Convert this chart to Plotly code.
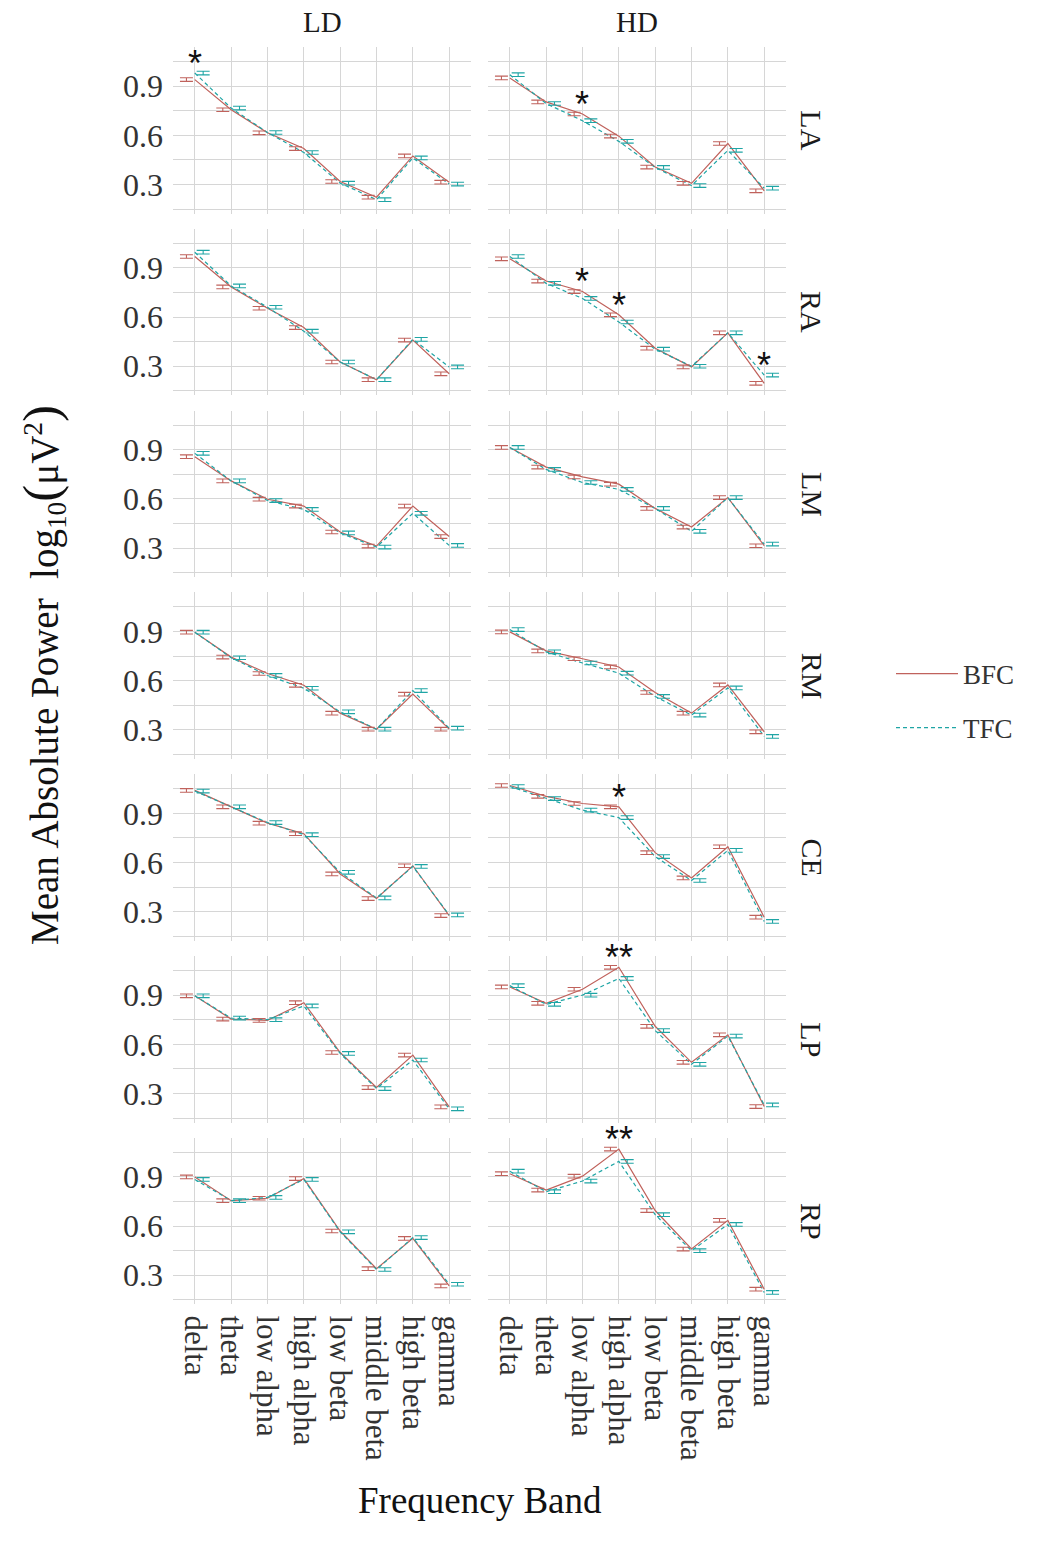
import plotly.graph_objects as go

W, H = 1039, 1548

bands = ["delta", "theta", "low alpha", "high alpha", "low beta", "middle beta", "high beta", "gamma"]
regions = ["LA", "RA", "LM", "RM", "CE", "LP", "RP"]
groups = ["LD", "HD"]
series = ["BFC", "TFC"]

# Mean absolute power
bfc_LA_LD = [0.940, 0.756, 0.615, 0.519, 0.318, 0.222, 0.474, 0.314]
tfc_LA_LD = [0.980, 0.766, 0.617, 0.495, 0.308, 0.207, 0.462, 0.302]
bfc_LA_HD = [0.950, 0.804, 0.730, 0.595, 0.406, 0.307, 0.550, 0.261]
tfc_LA_HD = [0.970, 0.794, 0.689, 0.563, 0.404, 0.293, 0.508, 0.277]

bfc_RA_LD = [0.970, 0.784, 0.654, 0.536, 0.326, 0.218, 0.460, 0.254]
tfc_RA_LD = [0.996, 0.790, 0.660, 0.514, 0.326, 0.218, 0.464, 0.296]
bfc_RA_HD = [0.956, 0.820, 0.756, 0.614, 0.410, 0.296, 0.504, 0.196]
tfc_RA_HD = [0.970, 0.806, 0.714, 0.570, 0.404, 0.300, 0.504, 0.246]

bfc_LM_LD = [0.858, 0.710, 0.598, 0.556, 0.398, 0.312, 0.556, 0.370]
tfc_LM_LD = [0.878, 0.710, 0.590, 0.536, 0.392, 0.306, 0.512, 0.316]
bfc_LM_HD = [0.914, 0.794, 0.734, 0.690, 0.542, 0.428, 0.608, 0.314]
tfc_LM_HD = [0.914, 0.780, 0.700, 0.658, 0.542, 0.402, 0.608, 0.324]

bfc_RM_LD = [0.896, 0.744, 0.644, 0.572, 0.402, 0.304, 0.518, 0.304]
tfc_RM_LD = [0.896, 0.740, 0.632, 0.554, 0.410, 0.304, 0.540, 0.310]
bfc_RM_HD = [0.898, 0.782, 0.734, 0.684, 0.528, 0.402, 0.574, 0.288]
tfc_RM_HD = [0.912, 0.776, 0.708, 0.646, 0.504, 0.390, 0.556, 0.260]

bfc_CE_LD = [1.040, 0.940, 0.840, 0.776, 0.530, 0.380, 0.580, 0.276]
tfc_CE_LD = [1.036, 0.940, 0.844, 0.770, 0.540, 0.384, 0.576, 0.280]
bfc_CE_HD = [1.070, 1.004, 0.960, 0.940, 0.660, 0.506, 0.696, 0.266]
tfc_CE_HD = [1.064, 0.990, 0.920, 0.874, 0.636, 0.490, 0.674, 0.240]

bfc_LP_LD = [0.896, 0.754, 0.746, 0.854, 0.550, 0.336, 0.534, 0.218]
tfc_LP_LD = [0.896, 0.760, 0.750, 0.834, 0.544, 0.330, 0.504, 0.206]
bfc_LP_HD = [0.950, 0.850, 0.936, 1.070, 0.710, 0.490, 0.658, 0.220]
tfc_LP_HD = [0.958, 0.844, 0.900, 1.002, 0.684, 0.478, 0.650, 0.230]

bfc_RP_LD = [0.900, 0.755, 0.770, 0.890, 0.570, 0.340, 0.525, 0.235]
tfc_RP_LD = [0.885, 0.755, 0.775, 0.885, 0.565, 0.335, 0.530, 0.245]
bfc_RP_HD = [0.920, 0.820, 0.905, 1.070, 0.695, 0.460, 0.635, 0.215]
tfc_RP_HD = [0.935, 0.810, 0.875, 0.995, 0.670, 0.450, 0.610, 0.195]

# standard error (bar half-height)
se_value = 0.011

# significance marks: (region, group, band, label)
stars = [
    ("LA", "LD", "delta", "*"),
    ("LA", "HD", "low alpha", "*"),
    ("RA", "HD", "low alpha", "*"),
    ("RA", "HD", "high alpha", "*"),
    ("RA", "HD", "gamma", "*"),
    ("CE", "HD", "high alpha", "*"),
    ("LP", "HD", "high alpha", "**"),
    ("RP", "HD", "high alpha", "**"),
]

# y-axis ticks
y_major = [0.3, 0.6, 0.9]
y_major_text = ["0.3", "0.6", "0.9"]
y_minor = [0.15, 0.45, 0.75, 1.05]

data = {
    ("LA", "LD"): (bfc_LA_LD, tfc_LA_LD), ("LA", "HD"): (bfc_LA_HD, tfc_LA_HD),
    ("RA", "LD"): (bfc_RA_LD, tfc_RA_LD), ("RA", "HD"): (bfc_RA_HD, tfc_RA_HD),
    ("LM", "LD"): (bfc_LM_LD, tfc_LM_LD), ("LM", "HD"): (bfc_LM_HD, tfc_LM_HD),
    ("RM", "LD"): (bfc_RM_LD, tfc_RM_LD), ("RM", "HD"): (bfc_RM_HD, tfc_RM_HD),
    ("CE", "LD"): (bfc_CE_LD, tfc_CE_LD), ("CE", "HD"): (bfc_CE_HD, tfc_CE_HD),
    ("LP", "LD"): (bfc_LP_LD, tfc_LP_LD), ("LP", "HD"): (bfc_LP_HD, tfc_LP_HD),
    ("RP", "LD"): (bfc_RP_LD, tfc_RP_LD), ("RP", "HD"): (bfc_RP_HD, tfc_RP_HD),
}

# ---- styling / layout ----
RED = "#C0625C"
TEAL = "#1FA5A5"
GRID = "#D6D6D6"
FONT = "Liberation Serif"
TXT = "#333333"
DODGE = 0.23
STAR_OFFSET = 0.09

col_px = [(173, 471), (488, 786)]
row_top0, row_step, row_h = 47, 181.8, 166.6
y_range = [0.122, 1.139]
x_range = [-0.6, 7.6]

fig = go.Figure()
layout = {}
idx = list(range(len(bands)))

n = 0
for r, reg in enumerate(regions):
    top = row_top0 + r * row_step
    bot = top + row_h
    for c, grp in enumerate(groups):
        n += 1
        xa = "x" if n == 1 else f"x{n}"
        ya = "y" if n == 1 else f"y{n}"
        xkey = "xaxis" if n == 1 else f"xaxis{n}"
        ykey = "yaxis" if n == 1 else f"yaxis{n}"
        bfc, tfc = data[(reg, grp)]
        first = n == 1
        fig.add_trace(go.Scatter(x=idx, y=bfc, mode="lines", name="BFC",
                                 line=dict(color=RED, width=1.2), xaxis=xa, yaxis=ya,
                                 showlegend=first, legendgroup="BFC"))
        fig.add_trace(go.Scatter(x=idx, y=tfc, mode="lines", name="TFC",
                                 line=dict(color=TEAL, width=1.2, dash="4px,3px"), xaxis=xa, yaxis=ya,
                                 showlegend=first, legendgroup="TFC"))
        for vals, col, off in ((bfc, RED, -DODGE), (tfc, TEAL, DODGE)):
            fig.add_trace(go.Scatter(
                x=[i + off for i in idx], y=vals, mode="markers",
                marker=dict(size=1, color="rgba(0,0,0,0)"),
                error_y=dict(type="constant", value=se_value, color=col, width=6.5, thickness=1.1),
                xaxis=xa, yaxis=ya, showlegend=False, hoverinfo="skip"))
        x0, x1 = col_px[c]
        layout[xkey] = dict(
            domain=[x0 / W, x1 / W], range=x_range, anchor=ya,
            tickmode="array", tickvals=idx, ticktext=bands,
            showticklabels=(r == len(regions) - 1), tickangle=90, ticklabelstandoff=10,
            tickfont=dict(family=FONT, size=31, color=TXT),
            showgrid=True, gridcolor=GRID, gridwidth=1, zeroline=False,
            showline=False, ticks="", fixedrange=True)
        layout[ykey] = dict(
            domain=[1 - bot / H, 1 - top / H], range=y_range, anchor=xa,
            tickmode="array", tickvals=y_major, ticktext=y_major_text,
            minor=dict(tickmode="array", tickvals=y_minor, showgrid=True, gridcolor=GRID,
                       gridwidth=1, ticks=""),
            showticklabels=(c == 0), ticklabelstandoff=9,
            tickfont=dict(family=FONT, size=32, color=TXT),
            showgrid=True, gridcolor=GRID, gridwidth=1, zeroline=False,
            showline=False, ticks="", fixedrange=True)

annotations = []
# column strips
for c, grp in enumerate(groups):
    x0, x1 = col_px[c]
    annotations.append(dict(text=grp, x=(x0 + x1) / 2 / W, y=1 - 22 / H, xref="paper", yref="paper",
                            showarrow=False, xanchor="center", yanchor="middle",
                            font=dict(family=FONT, size=29, color="#1a1a1a")))
# row strips
for r, reg in enumerate(regions):
    top = row_top0 + r * row_step
    annotations.append(dict(text=reg, x=812 / W, y=1 - (top + row_h / 2) / H, xref="paper", yref="paper",
                            showarrow=False, xanchor="center", yanchor="middle", textangle=90,
                            font=dict(family=FONT, size=30, color="#1a1a1a")))
# significance stars (positioned through the panel's axis range, in paper units so they are not clipped)
for reg, grp, band, lab in stars:
    r = regions.index(reg)
    c = groups.index(grp)
    n = r * 2 + c + 1
    xkey = "xaxis" if n == 1 else f"xaxis{n}"
    ykey = "yaxis" if n == 1 else f"yaxis{n}"
    bi = bands.index(band)
    bfc, tfc = data[(reg, grp)]
    yval = max(bfc[bi], tfc[bi]) + STAR_OFFSET
    xd, yd = layout[xkey]["domain"], layout[ykey]["domain"]
    px = xd[0] + (bi - x_range[0]) / (x_range[1] - x_range[0]) * (xd[1] - xd[0])
    py = yd[0] + (yval - y_range[0]) / (y_range[1] - y_range[0]) * (yd[1] - yd[0])
    annotations.append(dict(text=lab, x=px, y=py, xref="paper", yref="paper",
                            showarrow=False, xanchor="center", yanchor="middle", yshift=-5,
                            font=dict(family="Liberation Sans", size=36, color="#111111")))
# axis titles
annotations.append(dict(
    text="Mean Absolute Power&nbsp; log<sub>10</sub><span style='font-size:51px'>(</span>μV<sup>2</sup><span style='font-size:51px'>)</span>",
    x=42 / W, y=1 - 675 / H, xref="paper", yref="paper", showarrow=False, textangle=-90,
    xanchor="center", yanchor="middle", font=dict(family=FONT, size=39, color="#111111")))
annotations.append(dict(text="Frequency Band", x=480 / W, y=1 - 1500 / H, xref="paper", yref="paper",
                        showarrow=False, xanchor="center", yanchor="middle",
                        font=dict(family=FONT, size=37, color="#111111")))

fig.update_layout(
    width=W, height=H, margin=dict(l=0, r=0, t=0, b=0),
    paper_bgcolor="white", plot_bgcolor="white",
    annotations=annotations,
    legend=dict(x=891 / W, y=1 - 701 / H, xanchor="left", yanchor="middle",
                font=dict(family=FONT, size=27, color=TXT), tracegroupgap=16,
                bgcolor="rgba(0,0,0,0)", itemwidth=62),
    **layout)

fig.write_html("out.html")
